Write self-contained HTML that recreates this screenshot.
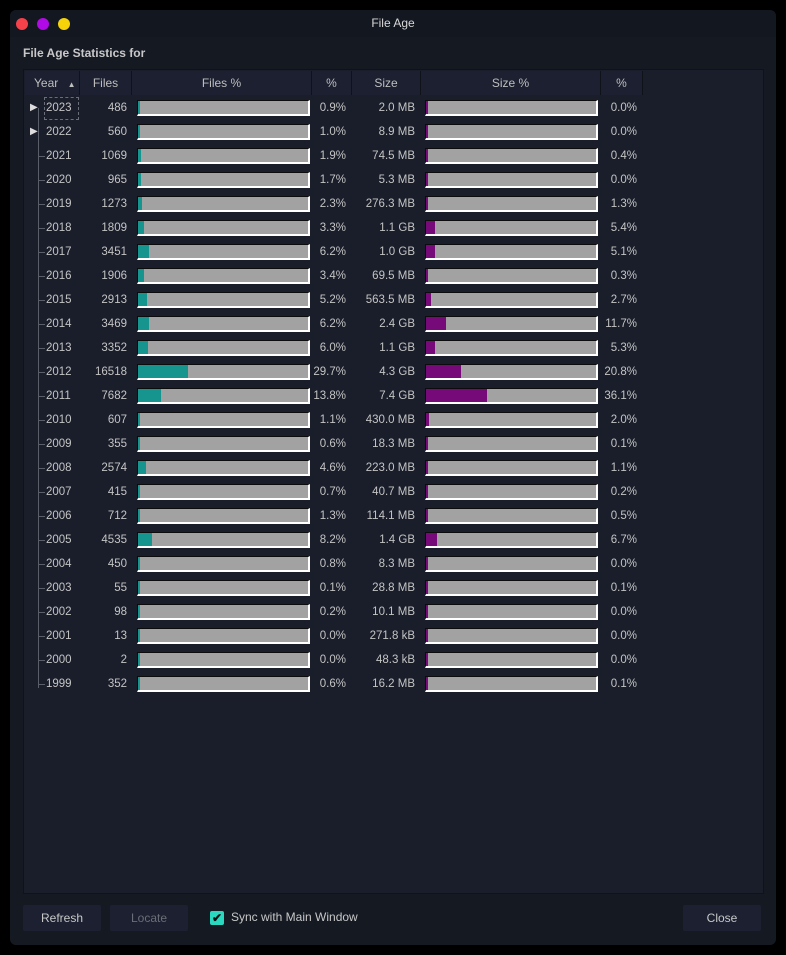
<!DOCTYPE html>
<html><head><meta charset="utf-8">
<style>
body{margin:0;width:786px;height:955px;background:#000;font-family:"Liberation Sans",sans-serif;overflow:hidden;position:relative}
.win{position:absolute;left:10px;top:10px;width:766px;height:935px;background:#151922;border-radius:6px}
.title{position:absolute;left:0;top:0;width:766px;height:27px;background:#131720;border-radius:6px 6px 0 0;color:#d8d8d8;font-size:12px;font-weight:normal;text-align:center;line-height:27px}
.dot{position:absolute;top:8px;width:12px;height:12px;border-radius:50%}
.lbl{position:absolute;left:13px;top:36px;color:#c8c8c8;font-size:12px;font-weight:bold}
.panel{position:absolute;left:13px;top:59px;width:739px;height:823px;background:#1a1e2a;border:1px solid #0f1218}
.hdr{position:absolute;top:1px;height:24px;background:#1c2030;border-right:1px solid #0f1218;color:#bfbfbf;font-size:12px;line-height:24px;text-align:center;box-sizing:border-box}
.cell{position:absolute;color:#c4c4c4;font-size:11.5px;line-height:24px;text-align:right}
.bar{position:absolute;height:16px;background:#a2a2a2;border:1px solid #0c0c0c;border-right:2px solid #fff;border-bottom:2px solid #fff;box-sizing:border-box}
.fill{position:absolute;left:0;top:0;height:100%}
.btn{position:absolute;top:895px;height:26px;background:#1c2030;border-radius:2px;color:#c8c8c8;font-size:12px;line-height:26px;text-align:center}
.tl{position:absolute;background:#5a5e68}
</style></head><body>
<div class="win">
<div class="title">File Age</div>
<div class="dot" style="left:6px;background:#f5424a"></div>
<div class="dot" style="left:27px;background:#b00ae6"></div>
<div class="dot" style="left:48px;background:#f5d20a"></div>
<div class="lbl">File Age Statistics for</div>
<div class="panel" id="panel">
<div class="hdr" style="left:1px;width:55px;text-align:left;padding-left:9px">Year <span style="font-size:8px;margin-left:6px">▲</span></div>
<div class="hdr" style="left:56px;width:52px">Files</div>
<div class="hdr" style="left:108px;width:180px">Files %</div>
<div class="hdr" style="left:288px;width:40px">%</div>
<div class="hdr" style="left:328px;width:69px">Size</div>
<div class="hdr" style="left:397px;width:180px">Size %</div>
<div class="hdr" style="left:577px;width:42px">%</div>
<div class="tl" style="left:14px;top:38px;width:1px;height:580px"></div>
<div style="position:absolute;left:20px;top:27px;width:33px;height:21px;border:1px dashed #6a6e78"></div>
</div>
<div class="btn" style="left:13px;width:78px">Refresh</div>
<div class="btn" style="left:100px;width:78px;color:#6a6e78">Locate</div>
<div style="position:absolute;left:200px;top:901px;width:14px;height:14px;background:#2ad8c0;border-radius:2px;color:#111;font-size:12px;line-height:14px;text-align:center;font-weight:bold">✔</div>
<div style="position:absolute;left:221px;top:900px;color:#c8c8c8;font-size:12px">Sync with Main Window</div>
<div class="btn" style="left:673px;width:78px">Close</div>
</div>
<script>
const years=[2023,2022,2021,2020,2019,2018,2017,2016,2015,2014,2013,2012,2011,2010,2009,2008,2007,2006,2005,2004,2003,2002,2001,2000,1999];
const files=[486,560,1069,965,1273,1809,3451,1906,2913,3469,3352,16518,7682,607,355,2574,415,712,4535,450,55,98,13,2,352];
const filesPct=[0.9,1.0,1.9,1.7,2.3,3.3,6.2,3.4,5.2,6.2,6.0,29.7,13.8,1.1,0.6,4.6,0.7,1.3,8.2,0.8,0.1,0.2,0.0,0.0,0.6];
const sizes=["2.0 MB","8.9 MB","74.5 MB","5.3 MB","276.3 MB","1.1 GB","1.0 GB","69.5 MB","563.5 MB","2.4 GB","1.1 GB","4.3 GB","7.4 GB","430.0 MB","18.3 MB","223.0 MB","40.7 MB","114.1 MB","1.4 GB","8.3 MB","28.8 MB","10.1 MB","271.8 kB","48.3 kB","16.2 MB"];
const sizePct=[0.0,0.0,0.4,0.0,1.3,5.4,5.1,0.3,2.7,11.7,5.3,20.8,36.1,2.0,0.1,1.1,0.2,0.5,6.7,0.0,0.1,0.0,0.0,0.0,0.1];
const panel=document.getElementById('panel');
const barW=173;
function x(p){return Math.max(2,p/100*(barW-3));}
function add(html,cls,style,name,inter){const d=document.createElement('div');d.className=cls;d.style.cssText=style;d.innerHTML=html;


panel.appendChild(d);return d;}
years.forEach((y,i)=>{
 const top=26+i*24;
 if(i<2){add('▶','cell','left:6px;top:'+top+'px;font-size:10px;color:#ddd','expand-arrow','true');}
 else{add('','tl','left:14px;top:'+(top+12)+'px;width:7px;height:1px','tree-branch','false');}
 add(String(y),'cell','left:22px;width:30px;top:'+top+'px;text-align:left','year-cell','false');
 add(String(files[i]),'cell','left:56px;width:47px;top:'+top+'px','files-cell','false');
 const b=add('','bar','left:113px;top:'+(top+4)+'px;width:'+barW+'px','files-bar','false');
 const f=document.createElement('div');f.className='fill';f.style.width=x(filesPct[i])+'px';f.style.background='#16948e';
 
 
 b.appendChild(f);
 add(filesPct[i].toFixed(1)+'%','cell','left:288px;width:34px;top:'+top+'px','files-pct-cell','false');
 add(sizes[i],'cell','left:328px;width:63px;top:'+top+'px','size-cell','false');
 const b2=add('','bar','left:401px;top:'+(top+4)+'px;width:'+barW+'px','size-bar','false');
 const f2=document.createElement('div');f2.className='fill';f2.style.width=x(sizePct[i])+'px';f2.style.background='#760a78';
 
 
 b2.appendChild(f2);
 add(sizePct[i].toFixed(1)+'%','cell','left:577px;width:36px;top:'+top+'px','size-pct-cell','false');
});
</script>
</body></html>
